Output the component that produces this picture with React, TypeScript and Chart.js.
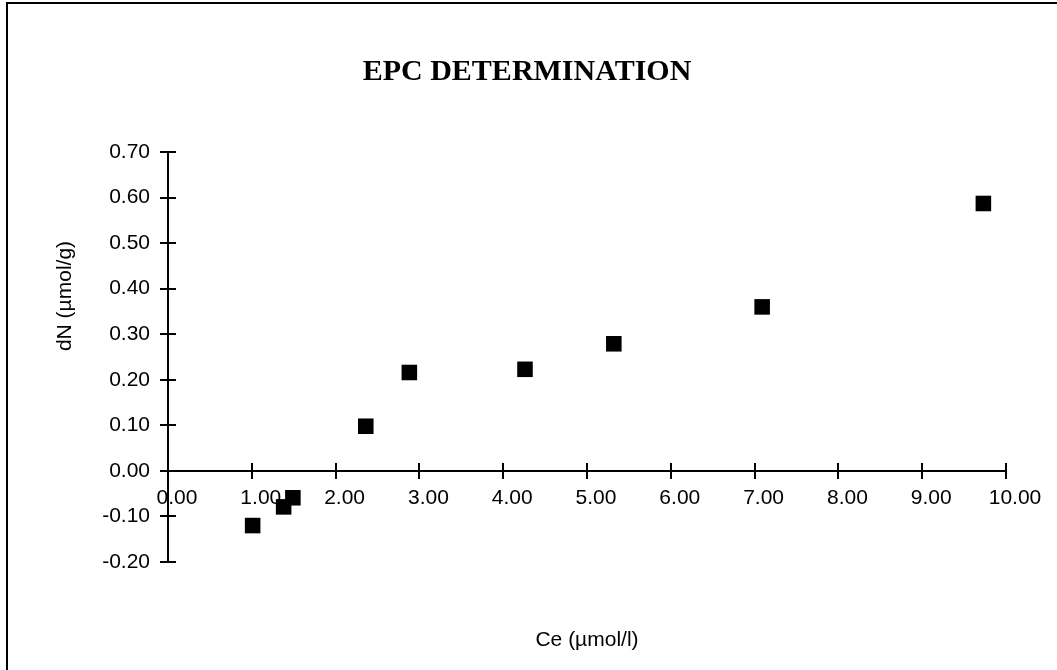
import React, { useEffect, useRef } from "react";
import { Chart, registerables } from "chart.js";

Chart.register(...registerables);

const ceValues = [1.01, 1.38, 1.49, 2.36, 2.88, 4.26, 5.32, 7.09, 9.73];
const dnValues = [-0.12, -0.079, -0.059, 0.098, 0.216, 0.223, 0.279, 0.36, 0.587];
const chartTitle = "EPC DETERMINATION";
const xTitle = "Ce (µmol/l)";
const yTitle = "dN (µmol/g)";

const fmt = (v: any) => {
  const n = Math.round(Number(v) * 100) / 100;
  return (n === 0 ? 0 : n).toFixed(2);
};

const extras = {
  id: "extras",
  afterDraw(chart: any) {
    const { ctx, scales } = chart;
    const xs = scales.x;
    const ys = scales.y;
    const zeroY = ys.getPixelForValue(0);
    const axisX = xs.getPixelForValue(0);
    ctx.save();
    ctx.strokeStyle = "#000";
    ctx.lineWidth = 2;
    ctx.beginPath();
    ys.ticks.forEach((t: any) => {
      const py = Math.round(ys.getPixelForValue(t.value));
      ctx.moveTo(axisX - 8, py);
      ctx.lineTo(axisX + 8, py);
    });
    xs.ticks.forEach((t: any) => {
      const px = Math.round(xs.getPixelForValue(t.value));
      ctx.moveTo(px, zeroY - 8);
      ctx.lineTo(px, zeroY + 8);
    });
    ctx.stroke();
    // frame
    ctx.beginPath();
    ctx.moveTo(7, 700);
    ctx.lineTo(7, 3);
    ctx.lineTo(1057, 3);
    ctx.stroke();
    ctx.fillStyle = "#000";
    ctx.textAlign = "center";
    ctx.textBaseline = "middle";
    // chart title
    ctx.font = "bold 30px 'Liberation Serif', 'Times New Roman', serif";
    ctx.fillText(chartTitle, 527, 72);
    // axis titles
    ctx.font = "21px 'Liberation Sans', Arial, sans-serif";
    const ca = chart.chartArea;
    ctx.fillText(xTitle, (ca.left + ca.right) / 2, 640);
    ctx.translate(65, 296);
    ctx.rotate(-Math.PI / 2);
    ctx.fillText(yTitle, 0, 0);
    ctx.restore();
  },
};

export default function App() {
  const ref = useRef<HTMLCanvasElement>(null);
  useEffect(() => {
    if (!ref.current) return;
    const tickFont = { family: "'Liberation Sans', Arial, sans-serif", size: 21 };
    const chart = new Chart(ref.current, {
      type: "scatter",
      data: {
        datasets: [
          {
            data: ceValues.map((x, i) => ({ x, y: dnValues[i] })),
            pointStyle: "rect",
            pointRadius: 11,
            pointBorderWidth: 0,
            backgroundColor: "#000",
            borderColor: "#000",
          },
        ],
      },
      options: {
        animation: false,
        responsive: false,
        layout: { padding: { top: 152, left: 0, right: 51, bottom: 108 } },
        plugins: {
          legend: { display: false },
          tooltip: { enabled: false },
          title: { display: false },
        },
        scales: {
          x: {
            type: "linear",
            position: { y: 0 } as any,
            min: 0,
            max: 10,
            grid: { drawOnChartArea: false, drawTicks: false },
            border: { display: true, color: "#000", width: 2 },
            ticks: {
              stepSize: 1,
              color: "#000",
              font: tickFont,
              padding: 15,
              labelOffset: 9,
              maxRotation: 0,
              autoSkip: false,
              callback: fmt,
            },
          },
          y: {
            type: "linear",
            position: "left",
            min: -0.2,
            max: 0.7,
            afterFit: (s: any) => {
              s.width = 168;
            },
            grid: { drawOnChartArea: false, drawTicks: false },
            border: { display: true, color: "#000", width: 2 },
            ticks: {
              stepSize: 0.1,
              color: "#000",
              font: tickFont,
              padding: 18,
              autoSkip: false,
              callback: fmt,
            },
          },
        },
      },
      plugins: [extras],
    });
    return () => chart.destroy();
  }, []);
  return (
    <div style={{ position: "fixed", left: 0, top: 0, width: 1057, height: 670, background: "#fff" }}>
      <canvas ref={ref} width={1057} height={670} />
    </div>
  );
}
